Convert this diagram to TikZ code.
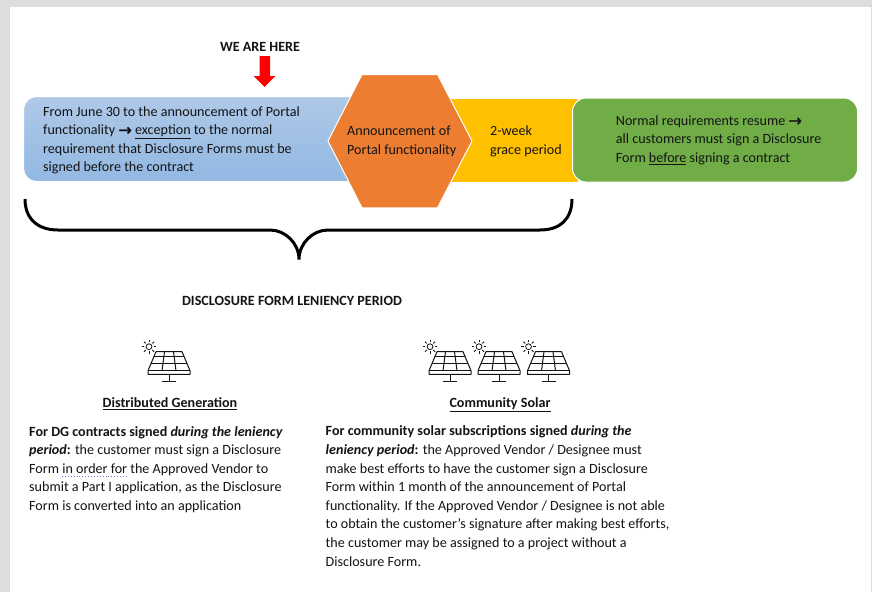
\documentclass[tikz,border=0pt]{standalone}
\usepackage{fontspec}
\setmainfont{Carlito}
\newfontfamily\arrowfont[FakeBold=1.3]{DejaVu Sans}
\newcommand{\rarr}{\raisebox{-0.8pt}{\arrowfont\fontsize{16}{18.6}\selectfont →}}
\newcommand{\ul}[1]{\underline{#1}}
\definecolor{pagegray}{RGB}{222,221,222}
\definecolor{blueA}{RGB}{175,201,232}
\definecolor{blueB}{RGB}{146,184,226}
\definecolor{orangeF}{RGB}{237,125,49}
\definecolor{goldF}{RGB}{255,192,0}
\definecolor{greenF}{RGB}{112,173,71}
\definecolor{inkT}{RGB}{20,20,20}
\definecolor{dotline}{RGB}{120,110,235}
\tikzset{
  x=1pt,y=-1pt,
  body/.style={font=\fontsize{14.1}{18.6}\selectfont,text=inkT,inner sep=0pt,anchor=base west,align=left},
  head/.style={font=\fontsize{14.1}{18.6}\selectfont\bfseries,text=inkT,inner sep=0pt,anchor=base},
  shapeedge/.style={draw=white,line width=1pt,line join=miter},
  iconline/.style={draw=inkT,line width=1pt},
  pics/solarpanel/.style={code={
    \draw[iconline,line join=round] (-13,0) -- (13,0) -- (21,19) -- (21,22.6) -- (-21,22.6) -- (-21,19) -- cycle;
    \draw[iconline] (-21,19) -- (21,19);
    \draw[iconline] (-15.1,5) -- (15.1,5) (-17.9,11.6) -- (17.9,11.6);
    \draw[iconline] (-4.5,0) -- (-7,19) (4.5,0) -- (7,19);
    \draw[iconline] (0,22.6) -- (0,30) (-7,30) -- (7,30);
    \draw[iconline,line width=.8pt] (-20,-5) circle (2.9);
    \foreach \a in {0,45,...,315}
      \draw[iconline,line width=.8pt] (-20,-5) ++(\a:4.6) -- ++(\a:2.5);
  }}
}
\begin{document}
\begin{tikzpicture}
\useasboundingbox (0,0) rectangle (872,592);
\fill[pagegray] (0,0) rectangle (872,592);
\fill[white] (10,7) rectangle (871,592);

% chevrons
\path[shapeedge,top color=blueA,bottom color=blueB,rounded corners=13] (400,96.5) -- (23.5,96.5) -- (23.5,181.5) -- (400,181.5) -- cycle;
\path[shapeedge,fill=goldF] (440,98) -- (578,98) -- (578,182) -- (440,182) -- cycle;
\path[shapeedge,fill=greenF,rounded corners=13.5] (700,98) -- (857.5,98) -- (857.5,182) -- (572.5,182) -- (572.5,98) -- cycle;
\path[shapeedge,fill=orangeF] (328,141) -- (362,74.5) -- (437.5,74.5) -- (472,141) -- (437.5,207.8) -- (362,207.8) -- cycle;

% red arrow
\fill[red] (259.7,56) -- (270,56) -- (270,76) -- (275.3,76) -- (264.5,87) -- (253.5,76) -- (259.7,76) -- cycle;

% brace
\draw[black,line width=3pt] (25,199) .. controls (25,219) and (38,230) .. (58,230) -- (270,230) .. controls (285,230) and (299,243) .. (299,259.5) .. controls (299,243) and (313,230) .. (328,230) -- (540,230) .. controls (560,230) and (572,219) .. (572,199);

% labels
\node[head] (here) at (260,51) {WE ARE HERE};
\node[body] (bluetext) at (43,171.8) {From June 30 to the announcement of Portal\\functionality \rarr{} \ul{exception} to the normal\\requirement that Disclosure Forms must be\\signed before the contract};
\node[body] (hextext) at (347,154) {Announcement of\\Portal functionality};
\node[body] (goldtext) at (490,154) {2-week\\grace period};
\node[body] (greentext) at (615.7,162.5) {Normal requirements resume \rarr{}\\all customers must sign a Disclosure\\Form \ul{before} signing a contract};
\node[head] (period) at (292,305) {DISCLOSURE FORM LENIENCY PERIOD};

% icons
\pic at (169,351.7) {solarpanel};
\pic at (450,351.7) {solarpanel};
\pic at (499,351.7) {solarpanel};
\pic at (548.5,351.7) {solarpanel};

% columns
\node[head] (dg) at (170,407.5) {\ul{Distributed Generation}};
\node[head] (cs) at (500,407.5) {\ul{Community Solar}};
\node[body] (dgtext) at (29,510.5) {\textbf{For DG contracts signed \textit{during the leniency}}\\\textbf{\textit{period}:} the customer must sign a Disclosure\\Form in order for the Approved Vendor to\\submit a Part I application, as the Disclosure\\Form is converted into an application};
\draw[dotline,line width=.9pt,dotted] (62,476) -- (127,476);
\node[body] (cstext) at (325.5,566) {\textbf{For community solar subscriptions signed \textit{during the}}\\\textbf{\textit{leniency period}:} the Approved Vendor / Designee must\\make best efforts to have the customer sign a Disclosure\\Form within 1 month of the announcement of Portal\\functionality. If the Approved Vendor / Designee is not able\\to obtain the customer’s signature after making best efforts,\\the customer may be assigned to a project without a\\Disclosure Form.};
\end{tikzpicture}
\end{document}
